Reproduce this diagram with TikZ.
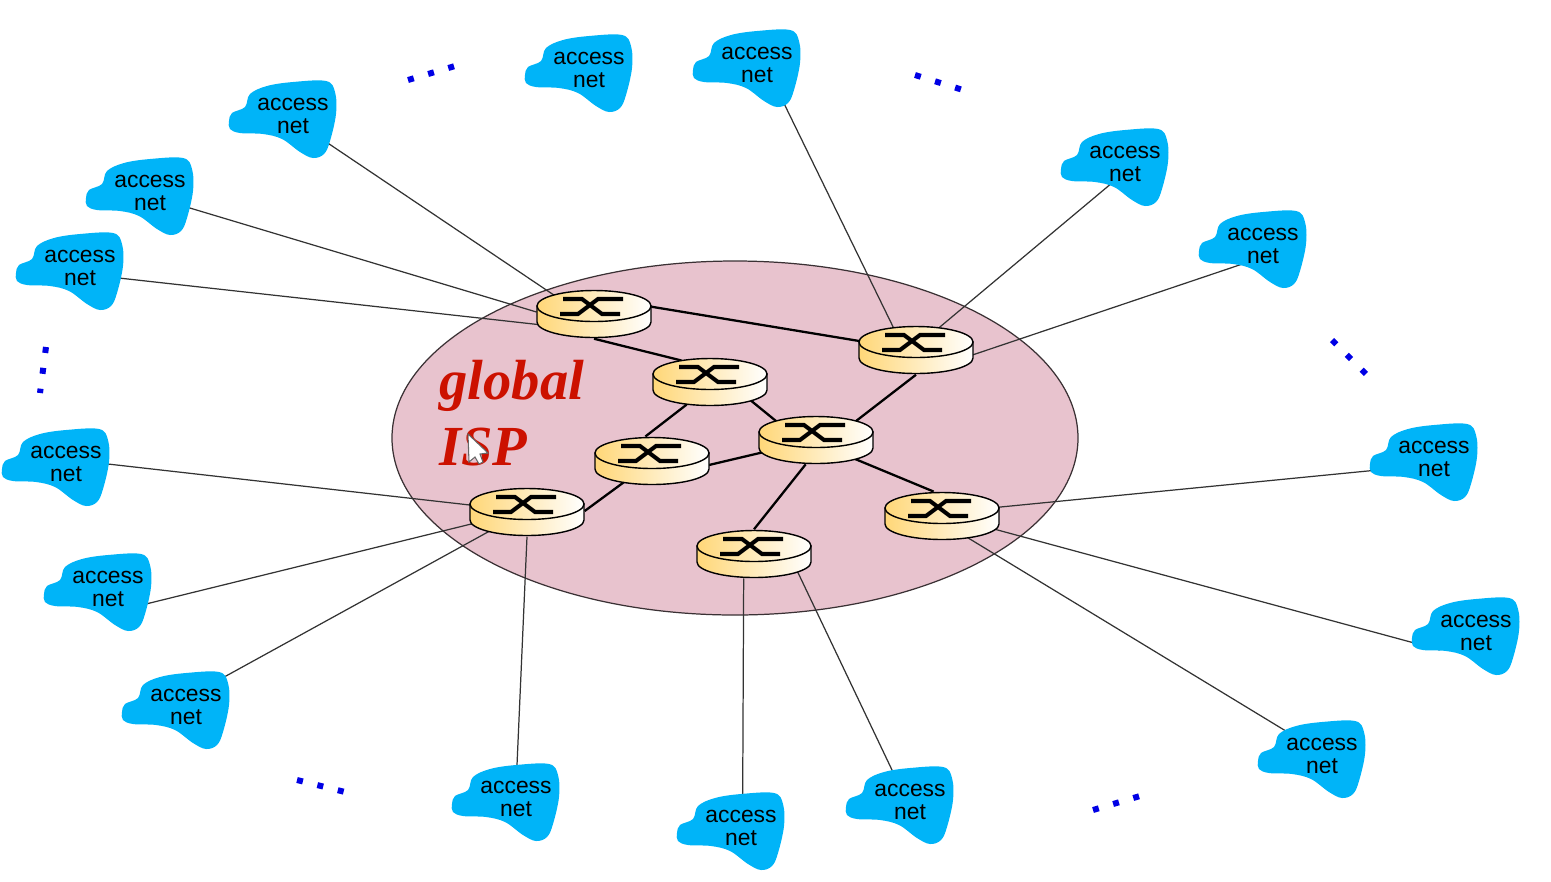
\documentclass[tikz,border=0pt]{standalone}
\usepackage{fontspec}
\setmainfont{Liberation Serif}
\setsansfont{Liberation Sans}
\usetikzlibrary{shapes.geometric,backgrounds}
\definecolor{ispfill}{HTML}{E8C3CE}
\definecolor{cloudblue}{HTML}{00B4F8}
\definecolor{routeryellow}{HTML}{FFD778}
\definecolor{ispred}{HTML}{CC1100}
\tikzset{
    cloudbox/.style={inner sep=0pt, align=center,
        font=\sffamily\fontsize{6.5}{6.55}\selectfont},
    routerbox/.style={ellipse, inner sep=0pt, minimum width=1.14cm, minimum height=0.48cm},
    uplink/.style={draw=black!80, line width=0.35pt},
    corelink/.style={draw=black, line width=0.65pt},
    moredots/.style={draw=blue!90!black, line width=0.06cm, dash pattern=on 0.06cm off 0.15cm},
    pics/accesscloud/.style={code={
        \fill[cloudblue] plot[smooth cycle, tension=0.6] coordinates {
            (-64,7) (-61,-1) (-48,-7) (-43,-20) (-26,-28) (0,-32) (33,-33) (42,-22) (43,0)
            (37,27) (31,40) (20,44) (7,38) (-11,25) (-30,20) (-53,19) (-63,15)};
    }},
    pics/router/.style={code={
        \draw[line width=0.4pt, left color=routeryellow, right color=white]
            (-57,-8) -- (-57,8) arc[start angle=180, end angle=0, x radius=57, y radius=15.5]
            -- (57,-8) -- cycle;
        \draw[line width=0.4pt, left color=routeryellow, right color=white] (0,-8) ellipse (57 and 15.5);
        \draw[line width=1.15pt] (-31,-15) -- (-12,-15) -- (8,0) -- (26,0);
        \draw[line width=1.15pt] (-34,0) -- (-16,0) -- (4,-15) -- (29,-15);
    }},
}
\begin{document}
\begin{tikzpicture}[x=0.01cm, y=-0.01cm]
    \useasboundingbox (0,0) rectangle (1551,881);

    % network of the ISP
    \begin{scope}[on background layer]
        \draw[fill=ispfill, draw=black!75!ispfill, line width=0.35pt] (735,438) ellipse (343 and 177);
    \end{scope}
    \node[anchor=west, align=left, text=ispred, font=\bfseries\itshape\fontsize{16.1}{18.8}\selectfont] (isplabel) at (427,413) {global\\ISP};

    % routers
    \foreach \name/\x/\y in {ra/594/314, rb/916/350, rc/710/382, rd/816/440, re/652/461, rf/527/512, rg/942/516, rh/754/554} {
        \node[routerbox] (\name) at (\x,\y) {};
        \pic at (\name) {router};
    }

    % access nets
    \foreach \name/\x/\y in {na/293/116, nb/150/193, nc/80/268, nd/66/464, ne/108/589, nf/186/707, ng/516/799, nh/741/828,
        ni/910/802, nj/1322/756, nk/1476/633, nl/1434/459, nm/1263/246, nn/1125/164, no/757/65, np/589/70} {
        \pic at (\x,\y-2) {accesscloud};
        \node[cloudbox] (\name) at (\x,\y) {access\\net};
    }

    % links
    \begin{scope}[on background layer]
        \draw[corelink] (ra.8) -- (rb.171);
        \draw[corelink] (ra.-90) -- (rc.143);
        \draw[corelink] (rc.224) -- (re.105);
        \draw[corelink] (rc.-24) -- (rd.155);
        \draw[corelink] (re.-4) -- (rd.193);
        \draw[corelink] (re.217) -- (rf.1);
        \draw[corelink] (rd.25) -- (rb.-90);
        \draw[corelink] (rd.-26) -- (rg.109);
        \draw[corelink] (rd.247) -- (rh.90);

        \draw[uplink] (na.-40) -- (ra.155);
        \draw[uplink] (nb.-21) -- (ra.178);
        \draw[uplink] (nc.-15) -- (ra.192);
        \draw[uplink] (nd.1) -- (rf.173);
        \draw[uplink] (ne.-23) -- (rf.192);
        \draw[uplink] (nf.47) -- (rf.207);
        \draw[uplink] (ng.89) -- (rf.-90);
        \draw[uplink] (nh.85) -- (rh.247);
        \draw[uplink] (ni.122) -- (rh.-21);
        \draw[uplink] (nj.144) -- (rg.-40);
        \draw[uplink] (nk.205) -- (rg.-14);
        \draw[uplink] (nl.194) -- (rg.9);
        \draw[uplink] (nm.220) -- (rb.-5);
        \draw[uplink] (nn.236) -- (rb.44);
        \draw[uplink] (no.-47) -- (rb.135);
    \end{scope}

    % three dots
    \foreach \xa/\ya/\xb/\yb in {408/80/455/66, 915/75/963/90, 1332/340/1367/375, 1093/810/1140/796, 297/780/345/792, 46/347/40/393} {
        \draw[moredots] (\xa,\ya) -- (\xb,\yb);
    }

    % mouse pointer
    \draw[fill=white, draw=black!60, line width=0.3pt] (468,434) -- (469,462) -- (475,457) -- (479,464) -- (483,462) -- (480,454) -- (488,453) -- cycle;
\end{tikzpicture}
\end{document}
